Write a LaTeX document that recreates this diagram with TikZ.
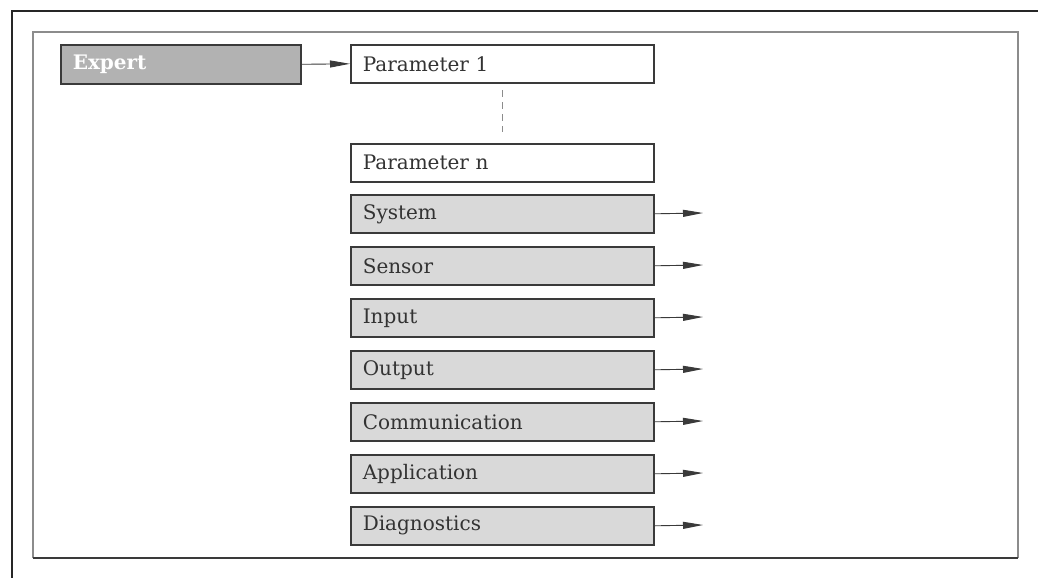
\documentclass[tikz,border=0pt]{standalone}
\usepackage{fontspec}
\setmainfont{DejaVu Serif}
\usetikzlibrary{arrows.meta}
\definecolor{boxline}{HTML}{3A3A3A}
\definecolor{framegray}{HTML}{8C8C8C}
\definecolor{expertfill}{HTML}{B2B2B2}
\definecolor{menufill}{HTML}{D9D9D9}
\definecolor{textgray}{HTML}{333333}
\begin{document}
\begin{tikzpicture}[x=1pt, y=-1pt,
		menubox/.style={rectangle, draw=boxline, line width=1.6pt, anchor=north west,
			minimum height=38pt, text width=279pt, inner xsep=12pt, inner ysep=0pt,
			align=left, text=textgray, font=\fontsize{20}{24}\selectfont},
		parambox/.style={menubox, fill=white},
		groupbox/.style={menubox, fill=menufill},
		link/.style={draw=boxline, line width=0.9pt, -{Triangle[length=20pt, width=7pt]}}]
		\useasboundingbox (0, 0) rectangle (1038, 578);
		% frames
		\draw [line width=2pt, black!85] (1038, 11) -- (12, 11) -- (12, 578);
		\draw [line width=1.3pt, framegray] (33, 558) -- (33, 32) -- (1018, 32) -- (1018, 558);
		\draw [line width=1.3pt, boxline] (33, 558) -- (1018, 558);
		% expert
		\node [menubox, fill=expertfill, text width=216pt, minimum height=39pt,
			text=white, font=\fontsize{20}{24}\selectfont\bfseries] (expert) at (60, 44) {Expert};
		\node [parambox] (par1) at (350, 44) {Parameter 1};
		\node [parambox] (parn) at (350, 143) {Parameter n};
		\draw [link] (expert.east) -- (par1.west);
		\draw [dashed, line width=1pt, framegray, dash pattern=on 7pt off 5pt]
		(502, 90) -- (502, 132);
		% groups
		\node [groupbox] (system) at (350, 194) {System};
		\node [groupbox] (sensor) at (350, 246) {Sensor};
		\node [groupbox] (input) at (350, 298) {Input};
		\node [groupbox] (output) at (350, 350) {Output};
		\node [groupbox] (comm) at (350, 402) {Communication};
		\node [groupbox] (appl) at (350, 454) {Application};
		\node [groupbox] (diag) at (350, 506) {Diagnostics};
		\coordinate (systemend) at (703, 213);
		\coordinate (sensorend) at (703, 265);
		\coordinate (inputend) at (703, 317);
		\coordinate (outputend) at (703, 369);
		\coordinate (commend) at (703, 421);
		\coordinate (applend) at (703, 473);
		\coordinate (diagend) at (703, 525);
		\draw [link] (system.east) -- (systemend);
		\draw [link] (sensor.east) -- (sensorend);
		\draw [link] (input.east) -- (inputend);
		\draw [link] (output.east) -- (outputend);
		\draw [link] (comm.east) -- (commend);
		\draw [link] (appl.east) -- (applend);
		\draw [link] (diag.east) -- (diagend);
	\end{tikzpicture}
\end{document}
